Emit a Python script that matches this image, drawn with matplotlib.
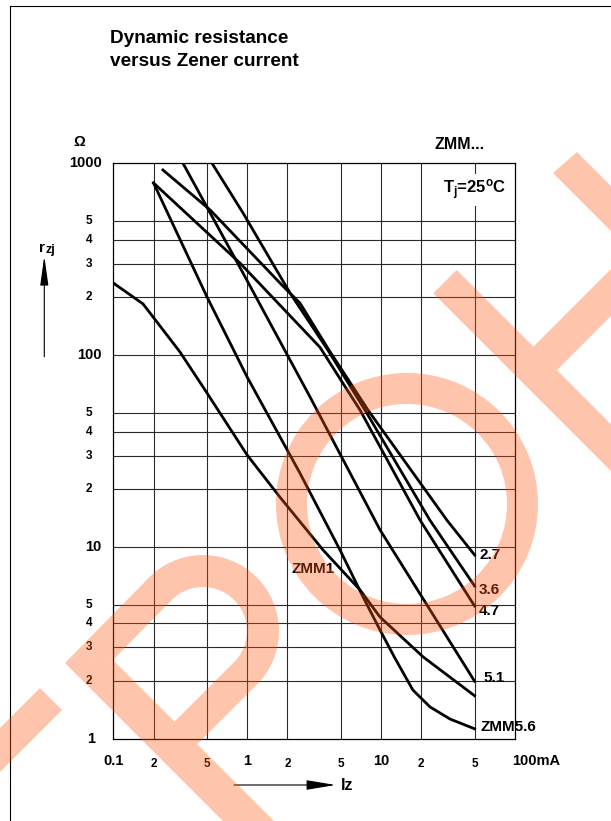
import matplotlib.pyplot as plt
from matplotlib.patches import Annulus, Polygon, Wedge
from matplotlib.lines import Line2D
from matplotlib.transforms import Affine2D

plt.rcParams['font.family'] = ['Liberation Sans', 'DejaVu Sans']
plt.rcParams['font.weight'] = 'bold'
plt.rcParams['mathtext.fontset'] = 'custom'
plt.rcParams['mathtext.rm'] = 'Liberation Sans:bold'
plt.rcParams['mathtext.it'] = 'Liberation Sans:bold'
plt.rcParams['mathtext.bf'] = 'Liberation Sans:bold'

# curves: Zener current Iz (mA) -> dynamic resistance rzj (Ohm)
iz_27 = [0.235, 0.53, 1.82, 2.48, 4.1, 7.99, 31.1, 50]
rz_27 = [923, 571, 232, 187, 106, 51.8, 13.8, 9.1]

iz_36 = [0.547, 0.932, 2.09, 4.02, 7.59, 23.2, 50]
rz_36 = [1000, 551, 211, 106, 51.8, 13.8, 6.27]

iz_47 = [0.2, 0.885, 3.5, 6.97, 19.6, 50]
rz_47 = [790, 302, 110, 51.8, 13.8, 4.93]

iz_51 = [0.332, 0.932, 2.95, 9.83, 50]
rz_51 = [1000, 268, 60.6, 12.3, 2.0]

iz_56 = [0.2, 0.502, 1.0, 2.48, 4.94, 7.34, 9.83, 12.7, 17.3, 23.2, 32.8, 50]
rz_56 = [790, 201, 77, 24.3, 9.66, 5.5, 3.7, 2.64, 1.8, 1.47, 1.27, 1.13]

iz_1 = [0.1, 0.167, 0.315, 0.502, 1.0, 1.76, 3.69, 6.97, 9.83, 20.6, 50]
rz_1 = [238, 185, 104, 63.5, 30.2, 18.2, 9.66, 5.98, 4.32, 2.68, 1.68]

curves = [(iz_27, rz_27), (iz_36, rz_36), (iz_47, rz_47),
          (iz_51, rz_51), (iz_56, rz_56), (iz_1, rz_1)]

x_grid = [0.2, 0.5, 1, 2, 5, 10, 20, 50]
y_grid = [2, 3, 4, 5, 10, 20, 30, 40, 50, 100, 200, 300, 400, 500]

x_tick_vals = [0.1, 0.2, 0.5, 1, 2, 5, 10, 20, 50, 100]
x_tick_text = ['0.1', '2', '5', '1', '2', '5', '10', '2', '5', '100mA']
y_tick_vals = [1, 2, 3, 4, 5, 10, 20, 30, 40, 50, 100, 200, 300, 400, 500, 1000]
y_tick_text = ['1', '2', '3', '4', '5', '10', '2', '3', '4', '5',
               '100', '2', '3', '4', '5', '1000']
small = ('2', '3', '4', '5')

fig = plt.figure(figsize=(6.11, 8.21), dpi=100)
ax = fig.add_axes([0.1853, 0.0999, 0.6574, 0.7012])
ax.set_xscale('log')
ax.set_yscale('log')
ax.set_xlim(0.1, 100)
ax.set_ylim(1, 1000)
ax.set_xticks(x_grid)
ax.set_yticks(y_grid)
ax.minorticks_off()
ax.tick_params(length=0, labelbottom=False, labelleft=False)
ax.grid(True, color='#2a2a2a', lw=0.8)
for s in ax.spines.values():
    s.set_linewidth(0.9)

for iz, rz in curves:
    ax.plot(iz, rz, color='black', lw=2.0, solid_joinstyle='round')

# curve names
for txt, x, y in [('2.7', 54, 9.1), ('3.6', 54, 5.98), ('4.7', 54, 4.65),
                  ('5.1', 57.8, 2.08), ('ZMM5.6', 55.6, 1.155)]:
    ax.text(x, y, txt, fontsize=11, ha='left', va='center', clip_on=False)
ax.text(3.1, 7.7, 'ZMM1', fontsize=11, ha='center', va='center')

ax.text(50, 726, r'T$_j$=25$^o$C', fontsize=12, ha='center', va='center',
        bbox=dict(fc='white', ec='none', pad=3))
ax.text(38.7, 1.0335, 'ZMM...', transform=ax.get_xaxis_transform(),
        fontsize=11.5, ha='center', va='center')

# tick labels
xtr = ax.get_xaxis_transform()
for v, t in zip(x_tick_vals, x_tick_text):
    if t == '100mA':
        ax.text(v * 0.96, -0.0257, t, transform=xtr, ha='left', va='top', fontsize=10.5)
    elif t in small:
        ax.text(v, -0.0328, t, transform=xtr, ha='center', va='top', fontsize=8.5)
    else:
        ax.text(v, -0.0257, t, transform=xtr, ha='center', va='top', fontsize=10.5)

ytr = ax.get_yaxis_transform()
for v, t in zip(y_tick_vals, y_tick_text):
    if t in small:
        ax.text(-0.0595, v, t, transform=ytr, ha='center', va='center', fontsize=8.5)
    elif t == '1':
        ax.text(-0.056, v, t, transform=ytr, ha='center', va='center', fontsize=10.5)
    else:
        ax.text(-0.0286, v, t, transform=ytr, ha='right', va='center', fontsize=10.5)

# title and axis names
fig.text(110 / 611, 1 - 43.3 / 821, 'Dynamic resistance', fontsize=13.7,
         ha='left', va='baseline')
fig.text(110 / 611, 1 - 66.5 / 821, 'versus Zener current', fontsize=13.7,
         ha='left', va='baseline')
fig.text(79.7 / 611, 1 - 142 / 821, '\u03a9', fontsize=10.5, ha='center', va='center')
fig.text(39 / 611, 1 - 251.5 / 821, 'r', fontsize=11, ha='left', va='baseline')
fig.text(45 / 611, 1 - 252.5 / 821, 'zj', fontsize=9, ha='left', va='baseline')
fig.text(341 / 611, 1 - 785 / 821, 'Iz', fontsize=11.5, ha='left', va='center')

ax.annotate('', xy=(44.3, 821 - 256), xytext=(44.3, 821 - 356.7),
            xycoords='figure pixels', textcoords='figure pixels', annotation_clip=False,
            arrowprops=dict(arrowstyle='-|>,head_length=1.8,head_width=0.25',
                            color='black', lw=0.8, shrinkA=0, shrinkB=0,
                            mutation_scale=10))
ax.annotate('', xy=(335.5, 821 - 785), xytext=(234, 821 - 785),
            xycoords='figure pixels', textcoords='figure pixels', annotation_clip=False,
            arrowprops=dict(arrowstyle='-|>,head_length=1.8,head_width=0.3',
                            color='black', lw=0.8, shrinkA=0, shrinkB=0,
                            mutation_scale=10))

# page frame
fig.add_artist(Line2D([10 / 611, 10 / 611], [0, 1 - 6 / 821],
                      transform=fig.transFigure, color='black', lw=0.8))
fig.add_artist(Line2D([10 / 611, 1], [1 - 6 / 821, 1 - 6 / 821],
                      transform=fig.transFigure, color='black', lw=0.8))

# watermark overlay (pixel coordinates from the top-left corner)
wm = Affine2D().scale(0.01, -0.01).translate(0, 8.21) + fig.dpi_scale_trans
wm_style = dict(transform=wm, facecolor='#ff5612', edgecolor='none', alpha=0.35, zorder=5)
marks = [
    Annulus((407, 504), 131, 31, **wm_style),
    Wedge((203, 631), 76, -135, 45, width=32, **wm_style),
    Polygon([(149.3, 577.3), (171.9, 599.9), (113, 660), (65, 663)], **wm_style),
    Polygon([(65, 663), (113, 660), (333, 880), (282, 880)], **wm_style),
    Polygon([(234.1, 662.1), (256.7, 684.7), (197.2, 744.2), (174.6, 721.6)], **wm_style),
    Polygon([(40, 688), (62, 710), (-60, 832), (-82, 810)], **wm_style),
    Polygon([(553, 173), (577, 152), (680, 255), (656, 276)], **wm_style),
    Polygon([(456.7, 270), (433.3, 293.3), (700, 560), (723.4, 536.7)], **wm_style),
    Polygon([(620, 260), (620, 307), (556.9, 370.2), (533.4, 346.7)], **wm_style),
]
for m in marks:
    fig.add_artist(m)

fig.savefig('out.png', dpi=100)
